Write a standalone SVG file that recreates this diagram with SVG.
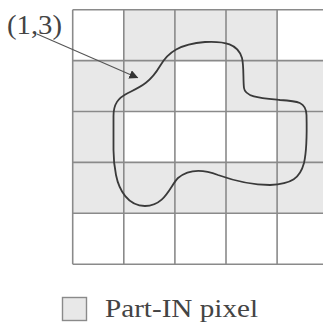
<svg xmlns="http://www.w3.org/2000/svg" width="323" height="326" viewBox="0 0 323 326">
<style>
.cell{fill:#e8e8e8;stroke:none}
.grid{stroke:#8a8a8a;stroke-width:1.6;fill:none}
.txt{font-family:"Liberation Serif","Times New Roman",serif;fill:#444}
</style>
<defs>
<marker id="ah" viewBox="0 0 10 10" refX="9" refY="5" markerWidth="9" markerHeight="9" markerUnits="userSpaceOnUse" orient="auto">
<path d="M0,0 L10,5 L0,10 Z" fill="#333"/>
</marker>
</defs>
<g id="cells">
<rect class="cell" x="123.8" y="9.7" width="153.3" height="50.9"/>
<rect class="cell" x="72.7" y="60.6" width="102.2" height="50.9"/>
<rect class="cell" x="226" y="60.6" width="97" height="50.9"/>
<rect class="cell" x="72.7" y="111.5" width="51.1" height="50.9"/>
<rect class="cell" x="277.1" y="111.5" width="46" height="50.9"/>
<rect class="cell" x="72.7" y="162.4" width="250.3" height="50.9"/>
</g>
<g id="grid" class="grid">
<line x1="72.7" y1="9.7" x2="323" y2="9.7"/>
<line x1="72.7" y1="60.6" x2="323" y2="60.6"/>
<line x1="72.7" y1="111.5" x2="323" y2="111.5"/>
<line x1="72.7" y1="162.4" x2="323" y2="162.4"/>
<line x1="72.7" y1="213.3" x2="323" y2="213.3"/>
<line x1="72.7" y1="264.2" x2="323" y2="264.2"/>
<line x1="72.7" y1="9.7" x2="72.7" y2="264.2"/>
<line x1="123.8" y1="9.7" x2="123.8" y2="264.2"/>
<line x1="174.9" y1="9.7" x2="174.9" y2="264.2"/>
<line x1="226" y1="9.7" x2="226" y2="264.2"/>
<line x1="277.1" y1="9.7" x2="277.1" y2="264.2"/>
</g>
<g id="region">
<path d="M113.5,150 L113.5,116 C113.5,104 118,98 128,93 C140,87 150,83 160,66 C168,52 180,44 205,42 C225,41 238,44 242,58 C244,66 243,80 244,88 C245,97 260,98 280,100 C298,101 306,102 306.5,115 C307,135 307,150 304,163 C300,178 292,184 270,185 C250,185 232,180 218,175 C205,170 190,168 178,178 C170,186 165,206 145,206 C128,206 119,190 116,175 C114,165 113.5,158 113.5,150 Z" fill="none" stroke="#3a3a3a" stroke-width="1.8"/>
</g>
<g id="label">
<text class="txt" x="7" y="33.5" font-size="27" textLength="55" lengthAdjust="spacingAndGlyphs">(1,3)</text>
</g>
<g id="connectors">
<line x1="37" y1="34" x2="137.5" y2="77.7" stroke="#555" stroke-width="1.1" marker-end="url(#ah)"/>
</g>
<g id="legend">
<rect x="62.5" y="297.5" width="24" height="23" fill="#e8e8e8" stroke="#8a8a8a" stroke-width="1.4"/>
<text class="txt" x="105" y="316.7" font-size="25.5" textLength="153" lengthAdjust="spacingAndGlyphs">Part-IN pixel</text>
</g>
</svg>
